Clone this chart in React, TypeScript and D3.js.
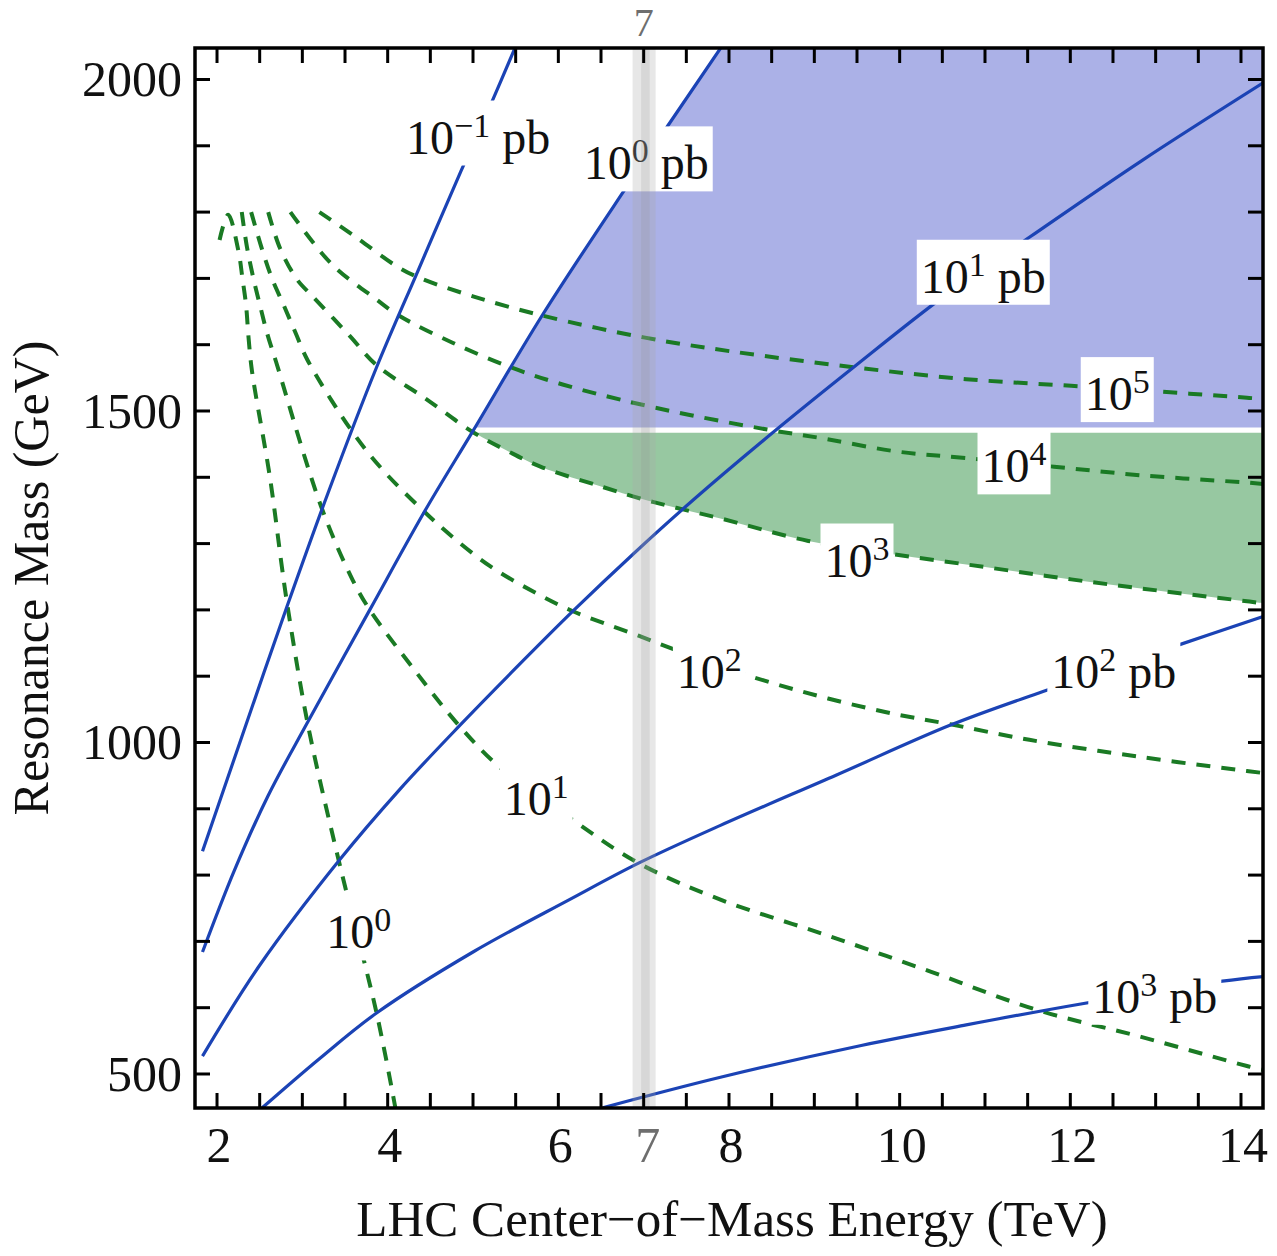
import React, { useEffect, useRef } from "react";
import * as d3 from "d3";

const W = 1277;
const H = 1256;
const FONT = "'Liberation Serif','Times New Roman',Times,serif";

// axis domains (TeV, GeV)
const xDomain = [1.742, 14.258];
const yDomain = [448.7, 2047.5];
const xTickLabels = [2, 4, 6, 8, 10, 12, 14];
const yTickLabels = [500, 1000, 1500, 2000];

// cross-section contours (blue, solid): E (TeV) / M (GeV)
const xs_m1_E = [1.83, 2.3, 2.82, 3.3, 3.87, 4.35, 4.86, 5.22, 5.5];
const xs_m1_M = [836, 1012, 1205, 1376, 1566, 1710, 1862, 1966, 2050];
const xs_0_E = [1.83, 2.2, 2.6, 3.06, 3.79, 4.43, 5.0, 5.81, 6.8, 7.9];
const xs_0_M = [684, 806, 920, 1030, 1200, 1348, 1470, 1644, 1838, 2047];
const xs_1_E = [1.83, 2.5, 3.43, 4.14, 4.84, 5.5, 6.17, 6.9, 7.6, 8.5, 9.46, 10.53, 11.52, 12.83, 14.26];
const xs_1_M = [527, 664, 822, 929, 1025, 1112, 1198, 1287, 1368, 1466, 1566, 1674, 1762, 1877, 1995];
const xs_2_E = [2.53, 3.2, 3.87, 5.0, 6.13, 6.94, 7.9, 9.26, 10.61, 11.68, 13.29, 14.26];
const xs_2_M = [449, 523, 592, 684, 763, 818, 875, 951, 1027, 1077, 1148, 1190];
const xs_3_E = [6.52, 7.9, 9.55, 10.78, 12.14, 13.78, 14.26];
const xs_3_M = [449, 495, 543, 574, 606, 640, 647];

// event-count contours (green, dashed)
const ev_0_E = [2.03, 2.13, 2.25, 2.3, 2.34, 2.37, 2.41, 2.62, 2.76, 2.82, 3.06, 3.43, 3.87, 4.09];
const ev_0_M = [1758, 1796, 1742, 1698, 1660, 1610, 1560, 1400, 1265, 1211, 1030, 820, 592, 449];
const ev_1_E = [2.29, 2.35, 2.43, 2.51, 2.59, 2.69, 3.22, 3.59, 3.79, 4.31, 4.84, 5.32, 6.17, 6.94, 7.9, 9.13, 10.37, 11.6, 12.83, 14.07, 14.26];
const ev_1_M = [1800, 1748, 1698, 1656, 1616, 1575, 1356, 1245, 1200, 1110, 1025, 962, 883, 818, 763, 710, 654, 597, 556, 512, 506];
const ev_2_E = [2.4, 2.53, 2.65, 2.78, 2.92, 3.06, 3.59, 3.95, 4.43, 4.76, 5.2, 5.7, 6.17, 6.94, 7.87, 8.85, 9.83, 10.61, 11.52, 12.83, 14.07, 14.26];
const ev_2_M = [1800, 1743, 1698, 1660, 1618, 1577, 1468, 1410, 1348, 1310, 1266, 1228, 1198, 1161, 1116, 1077, 1046, 1027, 1004, 978, 957, 954];
const ev_3_E = [2.6, 2.74, 2.94, 3.12, 3.55, 3.87, 4.43, 5.0, 5.4, 5.79, 6.53, 6.96, 7.38, 7.9, 8.93, 9.92, 10.98, 12.01, 13.04, 14.07, 14.26];
const ev_3_M = [1800, 1745, 1698, 1673, 1614, 1569, 1520, 1468, 1440, 1416, 1385, 1368, 1354, 1338, 1304, 1284, 1265, 1246, 1229, 1213, 1210];
const ev_4_E = [2.86, 3.34, 3.87, 4.13, 4.76, 5.44, 6.05, 6.73, 7.54, 8.45, 9.13, 9.96, 10.78, 11.81, 12.83, 14.07, 14.26];
const ev_4_M = [1800, 1722, 1668, 1644, 1603, 1566, 1540, 1517, 1494, 1472, 1458, 1439, 1429, 1416, 1403, 1392, 1390];
const ev_5_E = [3.2, 3.63, 4.11, 4.37, 5.0, 5.81, 7.0, 8.02, 9.46, 10.78, 12.01, 12.96, 14.07, 14.26];
const ev_5_M = [1800, 1762, 1718, 1701, 1673, 1644, 1611, 1590, 1566, 1548, 1538, 1530, 1520, 1518];

// labels
const pbLabelExp = ["\u22121", "0", "1", "2", "3"];
const pbLabelE = [5.06, 7.03, 10.98, 12.51, 12.99];
const pbLabelM = [1917, 1878, 1707, 1111, 621];
const evLabelExp = ["0", "1", "2", "3", "4", "5"];
const evLabelE = [3.66, 5.74, 7.77, 9.5, 11.34, 12.55];
const evLabelM = [718, 920, 1111, 1279, 1421, 1530];

// shaded regions and the 7 TeV band
const blueRegionMin = 1475;
const greenRegionMax = 1467;
const band7 = [6.87, 7.14];

type P = [number, number];
const zip = (E: number[], M: number[]): P[] => E.map((e, i) => [e, M[i]] as P);

function crossE(E: number[], M: number[], level: number): number {
  for (let i = 0; i < E.length - 1; i++) {
    if ((M[i] - level) * (M[i + 1] - level) <= 0) {
      return E[i] + ((level - M[i]) * (E[i + 1] - E[i])) / (M[i + 1] - M[i]);
    }
  }
  return E[0];
}

export default function App() {
  const ref = useRef<SVGSVGElement>(null);

  useEffect(() => {
    const svg = d3.select(ref.current as SVGSVGElement);
    svg.selectAll("*").remove();

    const x = d3.scaleLinear().domain(xDomain).range([195, 1263]);
    const y = d3.scaleLinear().domain(yDomain).range([1108, 48]);

    const line = d3
      .line<P>()
      .x((d) => x(d[0]))
      .y((d) => y(d[1]))
      .curve(d3.curveCatmullRom.alpha(0.5));

    const defs = svg.append("defs");
    defs
      .append("clipPath")
      .attr("id", "plotclip")
      .append("rect")
      .attr("x", 195)
      .attr("y", 48)
      .attr("width", 1068)
      .attr("height", 1060);

    const plot = svg.append("g").attr("clip-path", "url(#plotclip)");

    // blue region (right of 10^0 pb line, above blueRegionMin)
    const eB = crossE(xs_0_E, xs_0_M, blueRegionMin);
    const bPts: P[] = [[eB, blueRegionMin], ...zip(xs_0_E, xs_0_M).filter((p) => p[1] > blueRegionMin)];
    const last = bPts[bPts.length - 1];
    const bluePath =
      (line(bPts) as string) +
      `L${x(last[0])},${y(2200)}L${x(15)},${y(2200)}L${x(15)},${y(blueRegionMin)}Z`;
    plot.append("path").attr("d", bluePath).attr("fill", "#abb1e7");

    // green region (below greenRegionMax, above 10^3 events curve)
    const eG = crossE(ev_3_E, ev_3_M, greenRegionMax);
    const gPts: P[] = [[eG, greenRegionMax], ...zip(ev_3_E, ev_3_M).filter((p) => p[1] < greenRegionMax && p[0] > eG)];
    const gl = gPts[gPts.length - 1];
    const greenPath =
      (line(gPts) as string) +
      `L${x(15)},${y(gl[1])}L${x(15)},${y(greenRegionMax)}Z`;
    plot.append("path").attr("d", greenPath).attr("fill", "#97c8a1");

    // green dashed event contours
    const evSeries = [
      zip(ev_0_E, ev_0_M),
      zip(ev_1_E, ev_1_M),
      zip(ev_2_E, ev_2_M),
      zip(ev_3_E, ev_3_M),
      zip(ev_4_E, ev_4_M),
      zip(ev_5_E, ev_5_M),
    ];
    evSeries.forEach((s) => {
      plot
        .append("path")
        .attr("d", line(s) as string)
        .attr("fill", "none")
        .attr("stroke", "#1a7a24")
        .attr("stroke-width", 4)
        .attr("stroke-dasharray", "14,11");
    });

    // blue cross-section contours
    const xsSeries = [
      zip(xs_m1_E, xs_m1_M),
      zip(xs_0_E, xs_0_M),
      zip(xs_1_E, xs_1_M),
      zip(xs_2_E, xs_2_M),
      zip(xs_3_E, xs_3_M),
    ];
    xsSeries.forEach((s) => {
      plot
        .append("path")
        .attr("d", line(s) as string)
        .attr("fill", "none")
        .attr("stroke", "#1b43b5")
        .attr("stroke-width", 3.2);
    });

    // labels with white boxes
    const addLabel = (E: number, M: number, exp: string, unit: boolean) => {
      const g = plot.append("g");
      const rect = g.append("rect").attr("fill", "#fff");
      const cx = x(E);
      const base = y(M) + 19;
      const t = g
        .append("text")
        .attr("x", cx)
        .attr("y", base)
        .attr("text-anchor", "middle")
        .style("font-family", FONT)
        .style("font-size", "48px")
        .attr("fill", "#111");
      t.append("tspan").text("10");
      t.append("tspan").attr("dy", -17).style("font-size", "34px").text(exp);
      if (unit) t.append("tspan").attr("dy", 17).text("\u00a0pb");
      const bb = (t.node() as SVGTextElement).getBBox();
      rect
        .attr("x", bb.x - 4)
        .attr("y", base - 53)
        .attr("width", bb.width + 8)
        .attr("height", 65);
    };
    pbLabelExp.forEach((e, i) => addLabel(pbLabelE[i], pbLabelM[i], e, true));
    evLabelExp.forEach((e, i) => addLabel(evLabelE[i], evLabelM[i], e, false));

    // 7 TeV grey band (overlay)
    plot
      .append("rect")
      .attr("x", x(band7[0]))
      .attr("y", 48)
      .attr("width", x(band7[1]) - x(band7[0]))
      .attr("height", 1060)
      .attr("fill", "#a8a8a8")
      .attr("opacity", 0.28);
    plot
      .append("rect")
      .attr("x", x(6.97))
      .attr("y", 48)
      .attr("width", x(7.07) - x(6.97))
      .attr("height", 1060)
      .attr("fill", "#909090")
      .attr("opacity", 0.18);

    // ticks
    const axes = svg.append("g").attr("stroke", "#000").attr("stroke-width", 3);
    const tl = 15;
    d3.range(2, 14.001, 0.5).forEach((v) => {
      const px = x(v);
      axes.append("line").attr("x1", px).attr("x2", px).attr("y1", 1108).attr("y2", 1108 - tl);
      axes.append("line").attr("x1", px).attr("x2", px).attr("y1", 48).attr("y2", 48 + tl);
    });
    d3.range(500, 2000.001, 100).forEach((v) => {
      const py = y(v);
      axes.append("line").attr("x1", 195).attr("x2", 195 + tl).attr("y1", py).attr("y2", py);
      axes.append("line").attr("x1", 1263).attr("x2", 1263 - tl).attr("y1", py).attr("y2", py);
    });
    svg
      .append("rect")
      .attr("x", 195)
      .attr("y", 48)
      .attr("width", 1068)
      .attr("height", 1060)
      .attr("fill", "none")
      .attr("stroke", "#000")
      .attr("stroke-width", 3.5);

    // tick labels
    const lab = svg.append("g").style("font-family", FONT).style("font-size", "50px").attr("fill", "#111");
    xTickLabels.forEach((v) => {
      lab.append("text").attr("x", x(v) + 2).attr("y", 1162).attr("text-anchor", "middle").text(String(v));
    });
    yTickLabels.forEach((v) => {
      lab.append("text").attr("x", 182).attr("y", y(v) + 17).attr("text-anchor", "end").text(String(v));
    });
    // grey "7" marks
    lab.append("text").attr("x", x(7) + 4).attr("y", 1162).attr("text-anchor", "middle").attr("fill", "#6e6e6e").text("7");
    lab
      .append("text")
      .attr("x", x(7))
      .attr("y", 36)
      .attr("text-anchor", "middle")
      .attr("fill", "#6e6e6e")
      .style("font-size", "40px")
      .text("7");

    // axis titles
    lab
      .append("text")
      .attr("x", 732)
      .attr("y", 1236)
      .attr("text-anchor", "middle")
      .style("font-size", "51px")
      .text("LHC Center\u2212of\u2212Mass Energy (TeV)");
    lab
      .append("text")
      .attr("transform", "translate(48,578) rotate(-90)")
      .attr("text-anchor", "middle")
      .style("font-size", "50px")
      .text("Resonance Mass (GeV)");
  }, []);

  return (
    <svg
      ref={ref}
      width={W}
      height={H}
      style={{ position: "absolute", left: 0, top: 0, background: "#fff", display: "block" }}
    />
  );
}
